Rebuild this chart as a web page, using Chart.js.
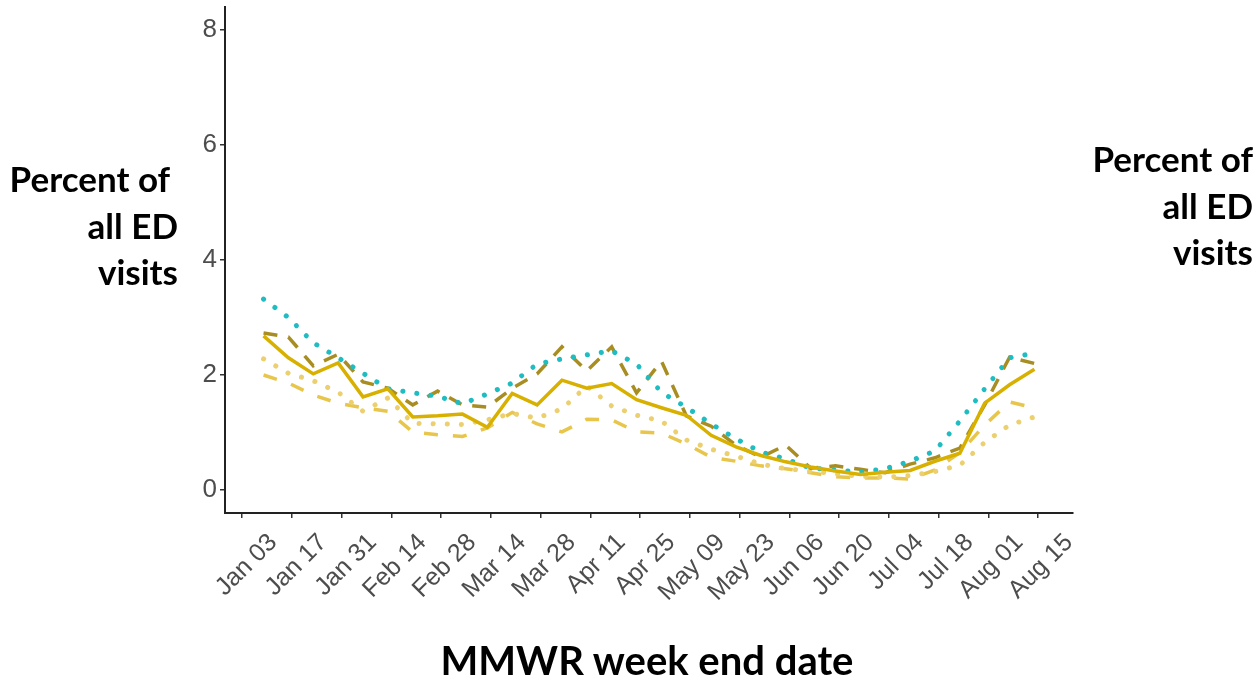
<!DOCTYPE html>
<html lang="en">

<head>
  <meta charset="UTF-8">
  <title>Percent of all ED visits by MMWR week</title>
  <script src="https://cdn.jsdelivr.net/npm/chart.js"></script>
  <style>
    html, body { margin: 0; padding: 0; background: #fff; }
    #wrap { position: relative; width: 1260px; height: 679px; overflow: hidden; }
    #myChart { position: absolute; left: 0; top: 0; }
    .lbl {
      position: absolute;
      font-family: Lato, "Open Sans", sans-serif;
      font-weight: bold;
      color: #000;
      text-align: right;
      font-size: 35px;
      line-height: 46.5px;
    }
    #xTitle {
      position: absolute;
      left: 0; width: 1294px; top: 640px;
      text-align: center;
      font-family: Lato, "Open Sans", sans-serif;
      font-weight: bold;
      font-size: 40px;
      line-height: 40px;
    }
  </style>
</head>

<body>
  <div id="wrap">
    <canvas id="myChart" width="1260" height="679"></canvas>
    <div class="lbl" style="right:1082px; top:155px;">Percent of&nbsp;<br>all ED<br>visits</div>
    <div class="lbl" style="right:7px; top:135px;">Percent of<br>all ED<br>visits</div>
    <div id="xTitle">MMWR week end date</div>
  </div>

  <script>
    // dias desde el 03 de enero (fin de semana MMWR, sabado)
    const weekDay = [6, 13, 20, 27, 34, 41, 48, 55, 62, 69, 76, 83, 90, 97, 104, 111,
      118, 125, 132, 139, 146, 153, 160, 167, 174, 181, 188, 195, 202, 209, 216, 223];

    // etiquetas del eje x (cada dos semanas)
    const tickDays = [0, 14, 28, 42, 56, 70, 84, 98, 112, 126, 140, 154, 168, 182, 196, 210, 224];
    const tickLabels = ['Jan 03', 'Jan 17', 'Jan 31', 'Feb 14', 'Feb 28', 'Mar 14', 'Mar 28', 'Apr 11',
      'Apr 25', 'May 09', 'May 23', 'Jun 06', 'Jun 20', 'Jul 04', 'Jul 18', 'Aug 01', 'Aug 15'];
    const yTicks = [0, 2, 4, 6, 8];

    // series (porcentaje de visitas)
    const solidGold = [2.68, 2.30, 2.02, 2.21, 1.62, 1.76, 1.27, 1.29, 1.32, 1.09, 1.68, 1.48, 1.91, 1.77, 1.85, 1.57,
      1.43, 1.30, 0.95, 0.75, 0.60, 0.49, 0.40, 0.33, 0.27, 0.31, 0.34, 0.50, 0.64, 1.51, 1.83, 2.10];
    const dashedOlive = [2.73, 2.66, 2.16, 2.36, 1.88, 1.77, 1.48, 1.72, 1.48, 1.44, 1.77, 2.02, 2.49, 2.07, 2.49, 1.69,
      2.24, 1.29, 1.11, 0.78, 0.57, 0.78, 0.38, 0.42, 0.36, 0.30, 0.45, 0.56, 0.73, 1.48, 2.31, 2.20];
    const dottedTeal = [3.32, 3.00, 2.56, 2.30, 2.03, 1.76, 1.69, 1.63, 1.50, 1.67, 1.86, 2.19, 2.28, 2.35, 2.42, 2.19,
      1.70, 1.44, 1.15, 0.89, 0.66, 0.54, 0.38, 0.35, 0.31, 0.37, 0.50, 0.68, 1.20, 1.76, 2.30, 2.38];
    const dottedLight = [2.28, 2.03, 1.90, 1.70, 1.37, 1.60, 1.16, 1.15, 1.14, 1.22, 1.33, 1.25, 1.41, 1.81, 1.46, 1.30,
      1.20, 0.87, 0.71, 0.59, 0.45, 0.37, 0.33, 0.28, 0.24, 0.22, 0.25, 0.32, 0.43, 0.83, 1.13, 1.27];
    const dashedLight = [2.00, 1.86, 1.65, 1.51, 1.43, 1.37, 1.01, 0.96, 0.93, 1.08, 1.35, 1.15, 1.01, 1.23, 1.22, 1.01,
      0.99, 0.80, 0.57, 0.50, 0.42, 0.37, 0.30, 0.23, 0.21, 0.21, 0.19, 0.35, 0.65, 1.13, 1.53, 1.43];

    function toPoints(values) {
      return values.map((v, i) => ({ x: weekDay[i], y: v }));
    }

    function makeSet(values, color, dash, order) {
      const dotted = dash.length && dash[0] < 1;
      return {
        data: toPoints(values),
        borderColor: color,
        borderWidth: dotted ? 5 : 3.5,
        borderDash: dash,
        borderCapStyle: dotted ? 'round' : 'butt',
        pointRadius: 0,
        tension: 0,
        fill: false,
        order: order
      };
    }

    const ctx = document.getElementById('myChart').getContext('2d');
    new Chart(ctx, {
      type: 'line',
      data: {
        datasets: [
          makeSet(solidGold, '#d8b000', [], 0),
          makeSet(dottedTeal, '#1fbcc2', [0.1, 14], 1),
          makeSet(dashedOlive, '#a88e22', [14, 11], 2),
          makeSet(dottedLight, '#ecd070', [0.1, 14], 3),
          makeSet(dashedLight, '#e8c64c', [14, 15], 4)
        ]
      },
      options: {
        responsive: false,
        animation: false,
        layout: { padding: { left: 155, right: 187, top: 7, bottom: 46 } },
        plugins: { legend: { display: false }, tooltip: { enabled: false } },
        scales: {
          x: {
            type: 'linear',
            min: -4.85,
            max: 233.85,
            afterBuildTicks: (axis) => { axis.ticks = tickDays.map(v => ({ value: v })); },
            afterFit: (axis) => { axis.height = 120; axis.paddingLeft = 0; axis.paddingRight = 0; },
            grid: { drawOnChartArea: false, drawTicks: true, tickLength: 5, color: '#333', lineWidth: 1.5 },
            border: { display: true, color: '#222', width: 2 },
            ticks: {
              autoSkip: false,
              maxRotation: 45,
              minRotation: 45,
              labelOffset: 31,
              padding: 10,
              color: '#4d4d4d',
              font: { family: '"Liberation Sans", Arial, sans-serif', size: 25 },
              callback: (value) => tickLabels[tickDays.indexOf(value)]
            }
          },
          y: {
            min: -0.4,
            max: 8.4,
            afterBuildTicks: (axis) => { axis.ticks = yTicks.map(v => ({ value: v })); },
            afterFit: (axis) => { axis.width = 70; axis.paddingTop = 0; axis.paddingBottom = 0; },
            grid: { drawOnChartArea: false, drawTicks: true, tickLength: 5, color: '#333', lineWidth: 1.5 },
            border: { display: true, color: '#222', width: 2 },
            ticks: {
              padding: 3,
              color: '#4d4d4d',
              font: { family: '"Liberation Sans", Arial, sans-serif', size: 26 }
            }
          }
        }
      }
    });
  </script>
</body>

</html>
